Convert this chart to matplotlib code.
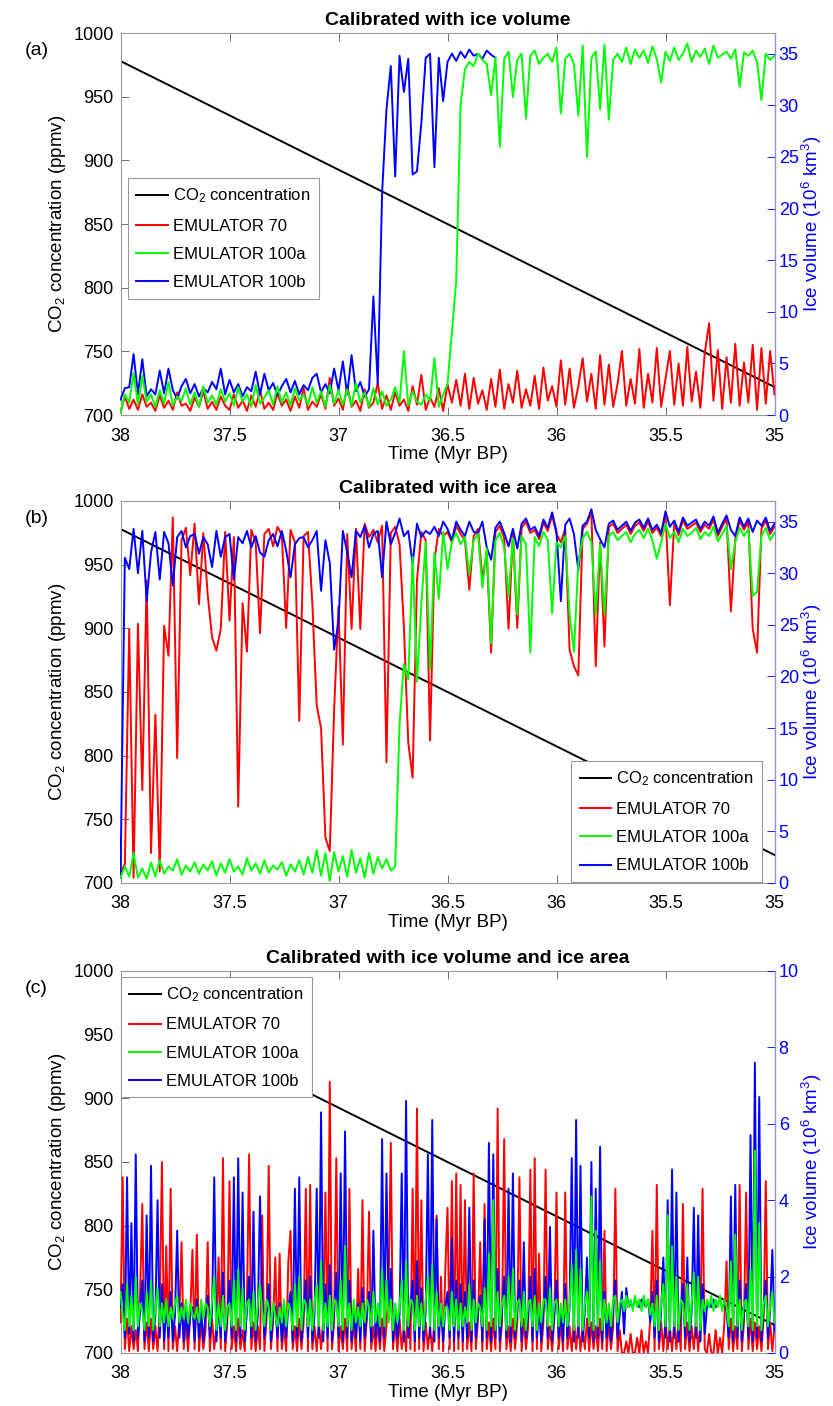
import numpy as np
import matplotlib
matplotlib.use("Agg")
import matplotlib.pyplot as plt
from matplotlib.lines import Line2D

plt.rcParams['font.family'] = ['Liberation Sans', 'DejaVu Sans']
plt.rcParams['mathtext.default'] = 'regular'

# CO2 forcing (ppmv), straight ramp
co2_time = [38.0, 35.0]
co2_ppmv = [978.0, 722.0]

# panels (a) and (b): ice volume every 0.02 Myr from 38 to 35
step_ab = 0.02
# panel (c): every 0.01 Myr
step_c = 0.01

# ---- (a) calibrated with ice volume ----
red_a = [0.3,1.8,0.6,1.5,0.5,2.0,0.8,1.2,0.4,1.9,0.7,1.4,0.5,2.2,0.9,1.1,0.4,1.7,0.8,2.3,0.6,1.3,0.5,1.8,0.9,
         0.5,2.0,0.7,1.4,0.4,1.9,0.8,2.4,0.6,1.2,0.5,2.1,0.9,1.5,0.4,1.8,0.7,2.6,0.5,1.3,0.8,2.0,0.6,3.6,0.9,
         1.6,0.5,2.9,0.8,1.4,0.4,2.5,0.7,1.2,3.1,0.6,1.9,0.5,2.2,0.9,1.5,0.4,2.8,1.0,3.9,0.5,1.7,0.8,2.6,0.4,
         3.0,1.2,3.4,0.9,4.0,0.6,3.6,1.1,2.4,0.5,3.5,0.8,4.4,0.6,3.0,1.2,4.3,0.7,2.5,0.9,3.8,0.6,4.6,1.4,2.8,
         0.8,5.3,1.0,4.5,0.7,2.8,5.5,1.3,4.0,0.6,5.8,1.0,4.9,0.8,3.0,6.2,0.9,3.5,1.1,6.4,0.7,4.0,1.2,6.5,0.8,
         3.5,6.2,1.0,5.0,0.9,6.6,1.3,4.2,0.7,6.0,8.9,1.4,6.3,0.6,5.6,1.2,6.9,0.9,5.1,1.2,6.8,0.5,6.5,1.1,6.2,2.0]
green_a = [0.2,2.0,1.2,4.1,1.0,3.8,1.3,2.0,0.8,2.4,1.1,3.2,0.9,1.8,1.4,2.6,1.0,2.2,0.8,2.8,1.2,1.9,1.0,2.5,1.3,
           2.1,0.9,2.7,1.3,2.0,0.8,2.9,1.1,1.7,2.4,1.0,2.8,1.2,2.2,0.9,2.6,1.4,2.0,1.0,2.7,1.2,2.3,0.8,2.9,1.1,
           2.4,1.0,2.5,0.9,3.1,1.2,2.2,0.8,2.6,1.0,2.3,0.9,1.5,2.7,1.2,6.2,0.9,2.3,1.3,1.0,2.0,1.4,5.5,0.8,2.0,
           3.0,8.0,13.0,30.0,33.5,34.2,33.8,35.0,34.4,34.0,31.0,34.6,26.0,34.5,35.2,30.8,34.4,35.0,28.7,34.8,35.3,34.0,34.6,35.0,34.2,
           35.6,29.2,34.5,35.0,34.0,29.0,35.8,25.0,34.6,35.2,29.6,35.9,28.6,34.4,35.0,34.2,35.6,34.0,35.4,34.6,35.3,34.1,35.7,34.5,32.2,
           35.2,34.3,35.6,34.4,35.0,36.0,34.2,35.3,34.7,35.5,34.0,35.8,34.6,34.9,35.2,34.5,35.4,31.8,35.1,34.8,35.3,34.2,30.5,35.0,34.4,34.8]
blue_a = [1.5,2.6,2.7,5.9,2.0,5.4,1.8,2.5,2.0,4.3,2.1,4.5,2.4,1.6,2.8,3.5,2.1,3.0,1.8,2.6,2.2,3.2,2.5,4.5,2.0,
          3.4,2.2,3.0,1.8,2.7,2.3,4.2,2.0,4.0,2.4,3.1,1.9,2.8,3.5,2.2,3.3,2.0,2.9,2.4,3.6,4.0,2.2,3.0,2.1,4.5,
          2.4,5.2,2.0,5.8,2.3,3.2,1.8,2.5,11.5,3.0,21.5,29.6,33.8,23.1,34.8,31.3,34.5,23.3,23.6,28.3,34.6,35.0,24.0,34.6,30.4,
          34.2,35.0,34.3,35.2,34.6,35.4,34.8,35.0,34.5,35.3,34.9,34.6]

# ---- (b) calibrated with ice area ----
red_b = [1.0,1.8,24.6,0.5,25.1,9.0,29.3,2.9,16.3,1.1,24.9,22.0,35.4,12.1,33.2,34.4,29.8,34.8,27.0,33.9,27.9,23.8,22.5,24.6,34.0,
         25.4,33.5,7.4,27.1,22.4,34.2,33.0,24.2,33.8,34.3,32.6,34.5,33.7,24.7,34.2,33.0,15.7,33.6,34.0,27.1,17.2,15.0,4.4,3.1,16.8,
         26.8,13.4,33.8,24.6,34.3,24.6,34.8,33.5,34.2,33.0,34.6,11.7,33.9,34.5,32.8,24.8,13.6,10.2,29.3,34.0,33.2,13.8,31.2,34.3,33.6,
         34.0,33.0,34.6,33.8,33.2,28.4,33.6,34.3,29.5,32.0,22.3,34.0,34.6,33.4,24.6,33.9,24.7,34.4,35.0,33.9,34.2,33.3,34.9,34.1,35.6,
         33.8,33.0,34.3,22.6,21.0,20.1,34.3,34.8,36.0,21.0,33.0,22.9,34.5,34.8,33.9,34.3,34.7,33.8,34.6,34.9,34.1,35.0,33.9,34.4,33.6,
         35.7,26.9,34.8,33.7,35.1,34.3,34.6,34.9,34.0,34.7,34.3,35.2,33.6,34.5,35.3,26.3,33.3,35.1,34.2,35.0,24.6,22.3,34.3,35.1,33.8,34.5]
green_b = [0.5,1.6,0.6,2.9,0.5,1.4,0.4,2.0,0.6,2.2,0.9,1.6,1.2,2.3,0.8,1.7,1.1,2.0,0.9,1.8,1.2,2.1,0.7,1.9,1.0,
           2.3,1.1,1.6,0.8,2.4,1.2,1.9,0.9,2.2,1.0,1.7,1.3,2.0,0.7,1.8,1.1,2.2,0.8,2.5,1.0,3.2,0.7,2.9,0.2,3.0,
           1.1,2.6,0.6,3.2,1.0,2.4,0.5,2.9,0.9,2.5,1.4,2.3,1.2,1.6,15.4,21.2,19.7,31.6,19.5,27.0,33.0,20.7,32.0,27.5,34.0,
           30.4,33.0,33.9,32.8,33.5,29.9,33.2,33.8,28.6,32.4,23.2,33.2,33.9,32.5,27.8,33.4,26.0,33.6,32.8,22.3,33.5,32.6,34.0,33.2,26.1,
           33.0,32.5,33.6,26.0,22.4,31.0,33.4,34.0,33.0,26.0,32.8,26.0,33.6,34.0,33.2,33.6,34.0,33.0,33.8,34.2,33.4,34.3,33.2,31.4,33.0,
           34.8,33.4,34.0,33.0,34.3,33.6,33.9,34.4,33.3,34.0,33.6,34.5,33.1,33.8,34.6,30.4,33.0,34.4,33.6,34.3,27.8,28.2,33.6,34.4,33.2,33.9]
blue_b = [0.5,31.5,30.4,34.3,30.0,34.1,27.3,32.0,34.0,29.4,34.0,32.9,28.8,33.5,34.1,32.5,33.6,33.8,31.9,33.5,32.8,30.6,34.1,31.6,33.5,
          33.8,29.4,33.5,32.9,34.1,32.5,33.6,32.0,31.6,33.2,33.8,32.6,34.1,32.2,29.6,32.8,33.4,33.5,32.5,33.2,34.1,28.3,33.2,31.0,22.6,
          25.3,34.1,32.0,29.6,34.1,33.5,34.6,32.5,33.8,34.1,29.6,35.0,32.8,33.9,35.3,33.6,34.1,30.9,34.8,33.5,34.1,33.8,34.5,33.6,35.0,
          34.3,33.2,35.0,34.2,33.6,35.0,34.0,33.9,35.0,32.5,31.3,34.4,35.0,33.9,32.6,34.3,32.4,34.8,35.3,34.2,34.5,33.6,35.2,34.4,35.9,
          34.0,27.3,34.7,35.3,33.8,30.3,34.6,35.0,36.2,34.2,33.3,32.5,34.8,35.1,34.2,34.6,35.0,34.1,34.9,35.2,34.4,35.3,34.2,34.7,33.9,
          36.0,34.5,35.1,34.0,35.4,34.6,34.9,35.2,34.3,35.0,34.6,35.5,33.9,34.8,35.6,34.2,33.6,35.4,34.5,35.3,34.0,35.1,34.6,35.4,34.1,34.8]

# ---- (c) calibrated with ice volume and ice area ----
red_c = [0.8,4.6,0.1,0.9,0.05,0.7,0.1,0.6,0.05,1.6,3.9,0.1,0.8,0.05,0.9,0.1,0.7,0.05,1.2,5.0,
         0.1,2.8,0.05,4.3,0.1,0.7,0.05,0.9,2.9,0.1,0.8,0.05,1.0,2.7,0.1,3.1,0.05,0.8,0.1,0.6,
         2.9,0.05,0.9,0.1,0.7,2.5,0.1,5.1,0.05,0.8,4.5,0.1,0.7,0.05,0.9,0.1,0.6,0.05,1.4,5.2,
         0.1,0.8,0.05,0.7,0.1,3.6,0.05,0.9,4.9,0.1,0.8,2.5,0.05,2.6,0.1,0.7,0.05,2.4,3.2,0.1,
         0.7,0.05,0.9,0.1,0.8,4.3,0.05,4.4,0.1,0.7,0.05,0.8,0.1,0.9,4.2,0.05,7.1,0.1,0.8,5.1,
         0.05,0.7,0.1,0.9,0.05,4.3,0.1,0.8,0.05,2.2,0.1,4.0,0.05,0.9,3.7,0.1,0.7,0.05,0.8,0.1,
         0.9,0.05,0.7,1.8,5.5,0.1,0.8,0.05,0.9,0.1,0.7,0.05,1.5,0.1,4.3,0.05,6.4,0.1,4.0,0.05,
         0.8,0.1,0.7,0.05,0.9,3.6,0.1,2.0,0.05,2.2,3.8,0.1,4.5,0.05,4.7,0.1,4.4,0.05,4.0,0.1,
         0.8,0.05,4.7,0.1,0.9,2.9,0.05,3.9,0.1,0.8,0.05,0.9,0.1,6.4,0.05,0.8,5.6,0.1,0.7,0.05,
         0.9,0.1,0.8,4.6,0.05,0.9,0.1,0.7,4.8,0.05,5.1,0.1,2.6,0.05,0.8,4.8,0.1,0.7,0.05,0.9,
         4.2,0.1,0.8,0.05,4.2,0.1,0.7,0.05,0.9,0.1,0.8,0.05,0.7,0.1,0.9,0.05,0.8,0.1,0.7,0.05,
         0.9,0.1,3.2,0.05,0.8,0.1,0.7,4.3,0.05,0.6,0.0,0.0,0.3,0.0,0.5,0.0,0.0,0.4,0.0,0.6,
         0.0,0.3,0.0,0.9,3.2,0.05,4.4,0.1,0.8,0.05,0.9,0.1,0.7,0.05,0.8,0.1,0.9,0.05,3.9,0.1,
         0.8,0.05,0.7,0.1,0.9,0.05,0.8,4.3,0.1,0.0,0.5,0.0,0.0,0.6,0.0,0.4,0.0,0.8,2.4,0.1,
         0.9,0.05,0.7,0.1,4.4,0.05,0.8,4.2,0.1,0.9,0.05,0.8,0.1,0.7,0.05,0.9,4.5,0.1,0.8,0.05,
         0.7]
blue_c = [1.2,1.8,0.4,4.6,0.5,3.4,0.3,5.2,0.4,1.1,1.9,0.3,3.6,0.4,4.9,0.3,1.0,4.0,0.4,1.8,
          0.3,1.2,0.4,1.6,0.3,1.0,3.2,0.4,1.3,0.3,1.1,0.4,1.0,1.2,0.3,1.4,0.4,1.1,0.3,1.0,
          1.5,0.4,1.1,4.6,0.3,1.3,0.4,2.1,0.3,1.0,1.9,0.4,4.6,0.3,5.1,0.4,4.2,0.3,1.1,2.0,
          0.4,3.7,0.3,1.0,4.1,1.5,0.4,1.1,1.8,0.3,1.0,1.2,0.4,1.3,0.3,1.1,0.4,1.2,1.6,0.3,
          4.3,0.4,4.6,0.3,1.1,1.9,0.4,2.0,0.3,1.0,4.3,0.4,6.3,0.3,1.8,0.4,2.3,0.3,1.1,2.1,
          0.4,4.7,0.3,5.8,0.4,1.9,0.3,1.1,0.4,1.3,0.3,1.7,0.4,1.0,1.6,0.3,3.2,0.4,1.1,0.3,
          5.6,0.4,4.7,0.9,2.2,0.3,1.1,0.4,1.0,4.7,0.3,6.6,0.4,1.2,1.9,0.3,2.4,0.4,1.7,0.3,
          1.1,5.2,0.4,6.1,0.3,3.5,0.4,1.3,0.3,1.2,1.6,0.4,3.0,0.3,1.9,0.4,1.8,0.3,1.6,0.4,
          3.8,0.3,1.9,0.4,1.1,1.5,0.3,3.5,0.4,5.5,0.3,5.2,0.4,2.2,0.3,1.1,2.0,0.4,4.3,0.3,
          4.7,0.4,1.1,1.9,0.3,2.9,0.4,1.0,2.0,0.3,2.2,0.4,1.2,0.3,1.1,2.0,0.4,3.3,0.3,1.0,
          1.9,0.4,1.1,0.3,1.8,0.4,1.2,5.1,0.3,6.1,0.4,4.9,0.3,1.1,2.5,0.4,5.0,0.3,4.3,0.4,
          5.4,0.3,1.6,0.4,1.1,0.3,1.2,1.9,0.4,1.0,1.6,0.5,1.7,1.2,1.3,1.2,1.4,1.3,1.2,1.4,
          1.3,1.2,1.4,0.8,1.6,0.4,1.9,0.3,1.1,2.5,0.4,4.0,0.3,4.8,0.4,4.2,0.3,1.1,1.8,0.4,
          2.5,0.3,1.1,3.8,0.4,3.6,0.3,1.8,0.5,1.2,1.3,1.2,1.4,1.2,1.3,1.4,1.2,1.3,1.1,0.4,
          4.1,0.3,4.4,0.4,1.9,0.3,1.1,1.8,0.4,5.7,0.3,7.6,0.4,6.7,0.3,1.2,1.9,0.4,1.1,2.7,
          0.6]
green_c = [1.6,1.0,0.6,1.8,0.7,1.5,0.6,2.0,0.7,1.3,1.1,0.6,1.6,0.7,1.9,0.6,1.2,1.7,0.7,1.3,
           0.8,1.4,0.7,1.2,0.9,1.3,1.5,0.8,1.2,0.9,1.4,0.8,1.3,1.0,0.9,1.2,0.8,1.4,0.9,1.3,
           1.2,0.7,1.4,2.0,0.6,1.3,0.7,1.5,0.6,1.2,1.3,0.7,1.9,0.6,2.2,0.7,1.7,0.6,1.3,1.4,
           0.7,1.6,0.6,1.3,1.8,1.1,0.7,1.4,1.2,0.6,1.3,1.0,0.7,1.2,0.8,1.4,0.7,1.3,1.1,0.6,
           1.8,0.7,2.0,0.6,1.4,1.3,0.7,1.4,0.6,1.3,1.8,0.7,2.4,0.6,1.3,0.7,1.5,0.6,1.4,1.3,
           0.7,1.9,0.6,2.8,0.7,1.3,0.6,1.4,0.8,1.2,0.7,1.3,0.8,1.4,1.2,0.7,1.6,0.8,1.3,0.7,
           2.2,0.7,1.9,0.8,1.4,0.6,1.3,0.8,1.2,1.9,0.6,2.4,0.7,1.4,1.3,0.6,1.5,0.7,1.3,0.6,
           1.4,2.0,0.7,2.3,0.6,1.6,0.7,1.3,0.7,1.2,1.2,0.6,1.6,0.7,1.4,0.6,1.3,0.7,1.2,0.8,
           1.8,0.6,1.4,0.8,1.3,1.2,0.7,1.7,0.6,2.6,0.7,4.0,0.6,1.6,0.7,1.3,1.5,0.6,2.0,0.7,
           2.2,0.6,1.3,1.4,0.7,1.6,0.6,1.3,1.4,0.7,1.5,0.6,1.3,0.8,1.4,1.4,0.7,1.7,0.6,1.3,
           1.4,0.7,1.3,0.8,1.4,0.7,1.3,2.3,0.6,2.7,0.7,2.2,0.6,1.3,1.6,0.7,4.1,0.6,3.2,0.7,
           2.4,0.6,1.4,0.8,1.3,0.7,1.4,1.5,0.8,1.3,1.4,1.1,1.5,1.2,1.4,1.1,1.5,1.2,1.4,1.1,
           1.5,1.2,1.4,1.0,1.3,0.7,1.5,0.6,1.3,1.8,0.7,3.6,0.6,2.8,0.7,2.0,0.6,1.4,1.3,0.7,
           1.8,0.6,1.3,2.1,0.7,2.0,0.6,1.4,1.1,1.4,1.2,1.5,1.1,1.4,1.2,1.5,1.1,1.4,1.2,0.7,
           2.4,0.6,3.1,0.7,1.4,0.6,1.3,1.4,0.7,2.2,0.6,5.3,0.7,3.4,0.6,1.3,1.5,0.7,1.2,1.6,
           0.8]

titles = ["Calibrated with ice volume", "Calibrated with ice area",
          "Calibrated with ice volume and ice area"]
tags = ["(a)", "(b)", "(c)"]
labels = ["CO$_2$ concentration", "EMULATOR 70", "EMULATOR 100a", "EMULATOR 100b"]
xticks = [38, 37.5, 37, 36.5, 36, 35.5, 35]
xticklabels = ["38", "37.5", "37", "36.5", "36", "35.5", "35"]


def times(n, step):
    return 38.0 - step * np.arange(n)


panels = [
    (red_a, green_a, blue_a, step_ab, 37, np.arange(0, 36, 5), "upper left", (0.0115, 0.62)),
    (red_b, green_b, blue_b, step_ab, 37, np.arange(0, 36, 5), "lower right", (0.981, 0.003)),
    (red_c, green_c, blue_c, step_c, 10, np.arange(0, 11, 2), "upper left", (0.001, 0.984)),
]

fig = plt.figure(figsize=(8.33, 14.06), dpi=100)
left, width, height = 120.5 / 833, 654 / 833, 382 / 1406
bottoms = [0.7048, 0.3720, 0.0377]
lw = 1.4
for k, (red, green, blue, st, ymax, rticks, lloc, lanchor) in enumerate(panels):
    ax = fig.add_axes([left, bottoms[k], width, height])
    ax.plot(co2_time, co2_ppmv, color='k', lw=lw)
    ax.set_xlim(38, 35)
    ax.set_ylim(700, 1000)
    ax.set_yticks(np.arange(700, 1001, 50))
    ax.set_xticks(xticks)
    ax.set_xticklabels(xticklabels)
    ax.tick_params(axis='both', direction='in', length=6, width=0.6, labelsize=13,
                   color='#555555')
    ax.tick_params(axis='x', top=True, pad=9)
    ax.tick_params(axis='y', right=False, pad=5)
    for s in ['top', 'bottom', 'left']:
        ax.spines[s].set_color('#999999')
        ax.spines[s].set_linewidth(0.8)
    ax.set_ylabel("CO$_2$ concentration (ppmv)", fontsize=13.5, labelpad=4)
    ax.set_xlabel("Time (Myr BP)", fontsize=13.5, labelpad=1)
    ax.set_title(titles[k], fontsize=14, fontweight='bold', pad=6)

    ax2 = ax.twinx()
    ax2.plot(times(len(red), st), red, color=(1, 0, 0), lw=lw)
    ax2.plot(times(len(blue), st), blue, color=(0, 0, 1), lw=lw)
    ax2.plot(times(len(green), st), green, color=(0, 1, 0), lw=lw)
    ax2.set_xlim(38, 35)
    ax2.set_ylim(0, ymax)
    ax2.set_yticks(rticks)
    ax2.tick_params(axis='y', direction='in', length=6, width=0.6, labelsize=13,
                    colors='blue', pad=3)
    ax2.spines['right'].set_color((0.55, 0.55, 1.0))
    ax2.spines['right'].set_linewidth(0.8)
    for s in ['top', 'bottom', 'left']:
        ax2.spines[s].set_visible(False)
    ax2.set_ylabel("Ice volume (10$^6$ km$^3$)", fontsize=13.5, color='blue', labelpad=1)

    handles = [Line2D([], [], color=c, lw=lw) for c in ['k', (1, 0, 0), (0, 1, 0), (0, 0, 1)]]
    leg = ax2.legend(handles, labels, loc=lloc, bbox_to_anchor=lanchor, fontsize=12,
                     fancybox=False, edgecolor='#999999', framealpha=1,
                     borderaxespad=0, handlelength=1.9, handletextpad=0.3,
                     labelspacing=0.8, borderpad=0.5)
    leg.get_frame().set_linewidth(0.8)

    fig.text(25 / 833, bottoms[k] + height - 0.0125, tags[k], fontsize=14,
             ha='left', va='center')

fig.savefig("out.png", dpi=100)
